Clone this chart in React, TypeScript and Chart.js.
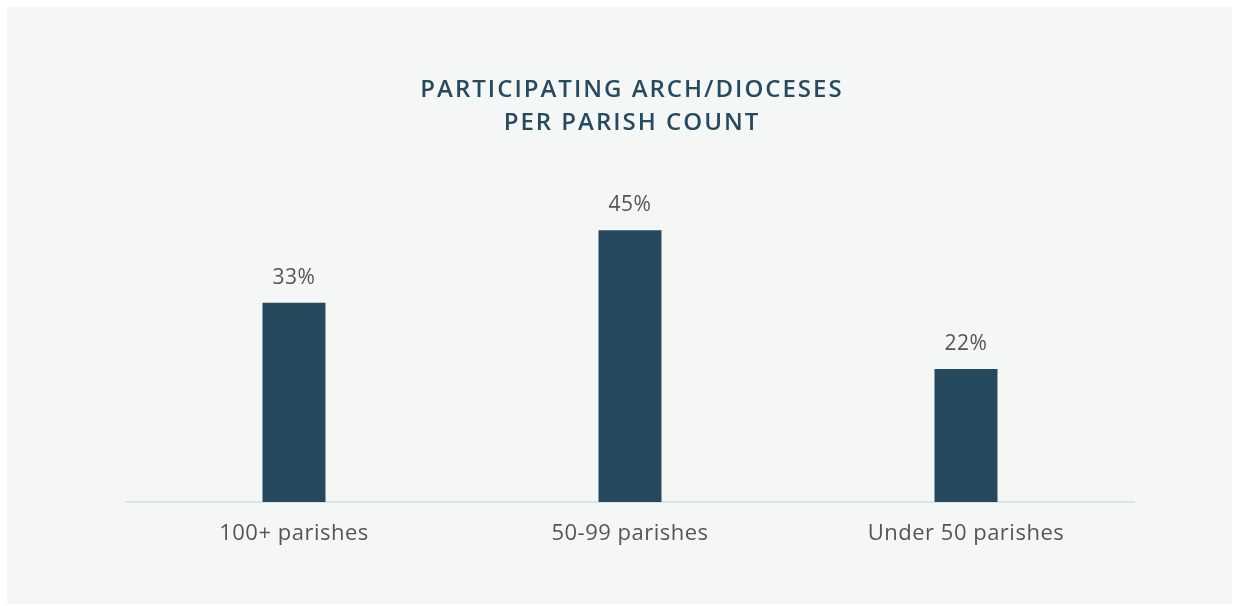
import React, { useEffect, useRef } from "react";
import { Chart, registerables } from "chart.js";

Chart.register(...registerables);

const categories: string[] = ["100+ parishes", "50-99 parishes", "Under 50 parishes"];
const values: number[] = [33, 45, 22];
const titleLines: string[] = ["PARTICIPATING ARCH/DIOCESES", "PER PARISH COUNT"];

const BAR = "#254a5e";
const TEXT = "#555555";
const TITLE = "#264b5f";

export default function App() {
  const ref = useRef<HTMLCanvasElement | null>(null);
  useEffect(() => {
    if (!ref.current) return;
    const spacingPlugin = {
      id: "spacing",
      beforeDraw(chart: any) {
        try { (chart.ctx as any).letterSpacing = "0.5px"; } catch (e) {}
      },
    };
    const titlePlugin = {
      id: "customTitle",
      afterDraw(chart: any) {
        const ctx = chart.ctx;
        ctx.save();
        try { (ctx as any).letterSpacing = "2px"; } catch (e) {}
        ctx.font = "600 24px 'Open Sans'";
        ctx.fillStyle = TITLE;
        ctx.textAlign = "center";
        ctx.textBaseline = "middle";
        titleLines.forEach((l, i) => ctx.fillText(l, 632, 90 + i * 33));
        ctx.restore();
      },
    };
    const labelPlugin = {
      id: "valueLabels",
      afterDatasetsDraw(chart: any) {
        const ctx = chart.ctx;
        const meta = chart.getDatasetMeta(0);
        ctx.save();
        try { (ctx as any).letterSpacing = "0.5px"; } catch (e) {}
        ctx.font = "400 21px 'Open Sans'";
        ctx.fillStyle = TEXT;
        ctx.textAlign = "center";
        ctx.textBaseline = "middle";
        meta.data.forEach((bar: any, i: number) => {
          ctx.fillText(values[i] + "%", bar.x, bar.y - 25);
        });
        ctx.restore();
      },
    };
    const chart = new Chart(ref.current, {
      type: "bar",
      data: {
        labels: categories,
        datasets: [
          {
            data: values,
            backgroundColor: BAR,
            categoryPercentage: 1,
            barPercentage: 0.1875,
          },
        ],
      },
      options: {
        animation: false,
        responsive: false,
        maintainAspectRatio: false,
        layout: { padding: { top: 200, left: 126, right: 100, bottom: 0 } },
        plugins: {
          legend: { display: false },
          title: { display: false },
          tooltip: { enabled: false },
        },
        scales: {
          x: {
            grid: { display: false, drawTicks: false },
            border: { display: true, color: "#d6e4ee", width: 2 },
            ticks: {
              color: TEXT,
              font: { family: "'Open Sans'", size: 22 },
              padding: 19,
            },
            afterFit(scale: any) {
              scale.height = 104;
            },
          },
          y: {
            display: false,
            min: 0,
            max: 50,
          },
        },
      },
      plugins: [spacingPlugin, titlePlugin, labelPlugin],
    });
    return () => chart.destroy();
  }, []);
  return (
    <div style={{ position: "fixed", left: 0, top: 0, width: 1234, height: 606, background: "#ffffff" }}>
      <div style={{ position: "absolute", left: 7, top: 7, width: 1225, height: 597, background: "#f5f7f7" }} />
      <canvas ref={ref} width={1234} height={606} style={{ position: "absolute", left: 0, top: 0, width: 1234, height: 606 }} />
    </div>
  );
}
